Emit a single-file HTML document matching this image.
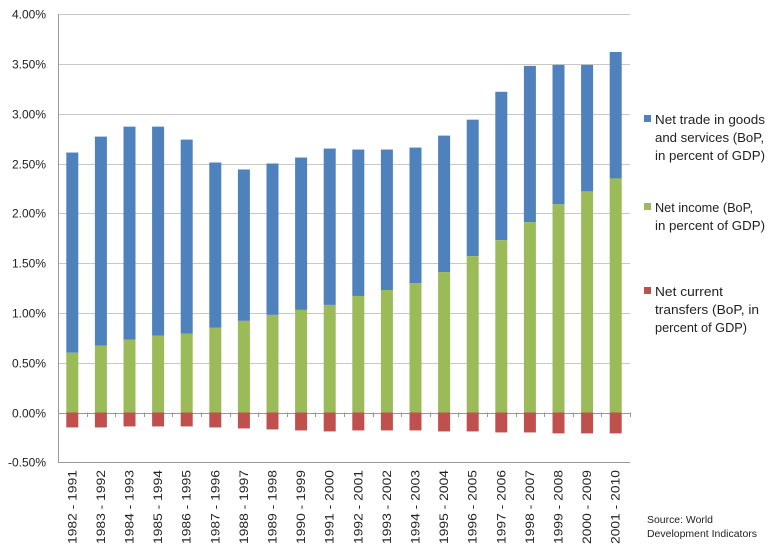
<!DOCTYPE html>
<html><head><meta charset="utf-8"><style>
body{margin:0;background:#fff;}
svg text{font-family:"Liberation Sans",sans-serif;fill:#222;}
</style></head><body>
<svg width="770" height="550" xmlns="http://www.w3.org/2000/svg">
<g id="grid" stroke="#b0b0b0" stroke-width="1"></g>
<g id="bars"></g>
<g id="labels"></g>
<rect x="644" y="115" width="7" height="7" fill="#4f81bd"/>
<rect x="644" y="203" width="7" height="7" fill="#9bbb59"/>
<rect x="644" y="287" width="7" height="7" fill="#c0504d"/>
<g font-size="13">
<text x="655" y="124" textLength="110" lengthAdjust="spacingAndGlyphs">Net trade in goods</text>
<text x="655" y="142" textLength="109" lengthAdjust="spacingAndGlyphs">and services (BoP,</text>
<text x="655" y="160" textLength="110" lengthAdjust="spacingAndGlyphs">in percent of GDP)</text>
<text x="655" y="212" textLength="98" lengthAdjust="spacingAndGlyphs">Net income (BoP,</text>
<text x="655" y="230" textLength="110" lengthAdjust="spacingAndGlyphs">in percent of GDP)</text>
<text x="655" y="296" textLength="68" lengthAdjust="spacingAndGlyphs">Net current</text>
<text x="655" y="314" textLength="104" lengthAdjust="spacingAndGlyphs">transfers (BoP, in</text>
<text x="655" y="332" textLength="92" lengthAdjust="spacingAndGlyphs">percent of GDP)</text>
</g>
<text x="647" y="523" font-size="10" textLength="66" lengthAdjust="spacingAndGlyphs">Source: World</text>
<text x="647" y="537" font-size="10" textLength="110" lengthAdjust="spacingAndGlyphs">Development Indicators</text>
</svg>
<script>
const ns="http://www.w3.org/2000/svg";
const d=[[2.61,0.60,-0.15],[2.77,0.67,-0.15],[2.87,0.73,-0.14],[2.87,0.77,-0.14],[2.74,0.79,-0.14],[2.51,0.85,-0.15],[2.44,0.92,-0.16],[2.50,0.98,-0.17],[2.56,1.03,-0.18],[2.65,1.08,-0.19],[2.64,1.17,-0.18],[2.64,1.23,-0.18],[2.66,1.30,-0.18],[2.78,1.41,-0.19],[2.94,1.57,-0.19],[3.22,1.73,-0.20],[3.48,1.91,-0.20],[3.49,2.09,-0.21],[3.49,2.22,-0.21],[3.62,2.35,-0.21]];
const y=v=>412.5-v*99.6;
const L=58,R=630,W=(R-L)/20;
function el(t,a,p,txt){const e=document.createElementNS(ns,t);for(const k in a)e.setAttribute(k,a[k]);if(txt)e.textContent=txt;document.getElementById(p).appendChild(e);return e;}
for(let i=0;i<=9;i++){const v=4-i*0.5,yy=Math.round(y(v))+0.5;
 if(v!==-0.5)el('line',{x1:L,x2:R,y1:yy,y2:yy,stroke:v===0?'#999':'#c8c8c8'},'grid');
 el('text',{x:46,y:yy+4,'text-anchor':'end','font-size':12},'labels',v.toFixed(2)+'%');}
el('line',{x1:L+0.5,x2:L+0.5,y1:y(4),y2:y(-0.5),stroke:'#999'},'grid');
el('line',{x1:L,x2:R,y1:Math.round(y(-0.5))+0.5,y2:Math.round(y(-0.5))+0.5,stroke:'#999'},'grid');
for(let i=0;i<=20;i++){const x=Math.round(L+i*W)+0.5;el('line',{x1:x,x2:x,y1:412.5,y2:417,stroke:'#999'},'grid');}
d.forEach((r,i)=>{const cx=L+W*(i+0.5),bw=12,x=cx-bw/2;
 el('rect',{x:x,y:y(r[0]),width:bw,height:y(r[1])-y(r[0]),fill:'#4f81bd'},'bars');
 el('rect',{x:x,y:y(r[1]),width:bw,height:y(0)-y(r[1]),fill:'#9bbb59'},'bars');
 el('rect',{x:x,y:y(0),width:bw,height:y(r[2])-y(0),fill:'#c0504d'},'bars');
 const s=(1982+i)+' - '+(1991+i);
 el('text',{x:0,y:0,'font-size':12,'text-anchor':'end',textLength:74,lengthAdjust:'spacingAndGlyphs',transform:`translate(${cx+4},470) rotate(-90)`},'labels',s);
});
</script>
</body></html>
